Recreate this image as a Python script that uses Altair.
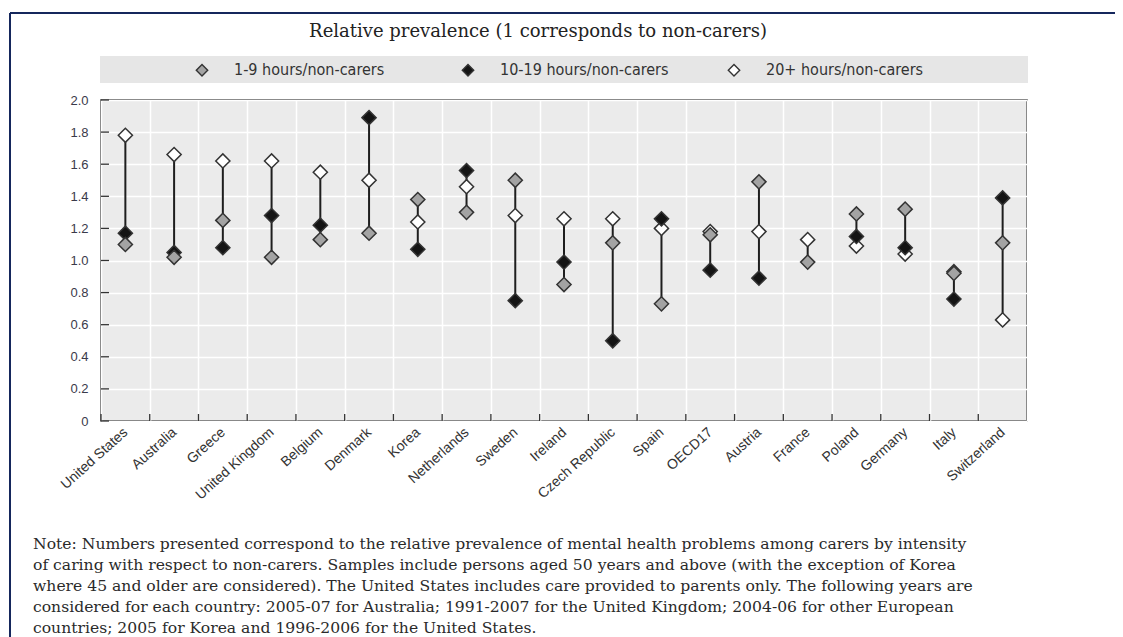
import altair as alt
import pandas as pd

COUNTRIES = ["United States", "Australia", "Greece", "United Kingdom", "Belgium",
             "Denmark", "Korea", "Netherlands", "Sweden", "Ireland", "Czech Republic",
             "Spain", "OECD17", "Austria", "France", "Poland", "Germany", "Italy",
             "Switzerland"]
SERIES = ["1-9 hours/non-carers", "10-19 hours/non-carers", "20+ hours/non-carers"]
H1_9 = [1.10, 1.02, 1.25, 1.02, 1.13, 1.17, 1.38, 1.30, 1.50, 0.85, 1.11,
        0.73, 1.16, 1.49, 0.99, 1.29, 1.32, 0.92, 1.11]
H10_19 = [1.17, 1.05, 1.08, 1.28, 1.22, 1.89, 1.07, 1.56, 0.75, 0.99, 0.50,
          1.26, 0.94, 0.89, None, 1.15, 1.08, 0.76, 1.39]
H20_PLUS = [1.78, 1.66, 1.62, 1.62, 1.55, 1.50, 1.24, 1.46, 1.28, 1.26, 1.26,
            1.20, 1.18, 1.18, 1.13, 1.09, 1.04, 0.93, 0.63]
Y_TICKS = [0, 0.2, 0.4, 0.6, 0.8, 1.0, 1.2, 1.4, 1.6, 1.8, 2.0]
FILLS = ["#a3a3a3", "#141414", "#ffffff"]
TITLE = "Relative prevalence (1 corresponds to non-carers)"
NOTE_LINES = [
    "Note:  Numbers presented correspond to the relative prevalence of mental health problems among carers by intensity",
    "of caring with respect to non-carers. Samples include persons aged 50 years and above (with the exception of Korea",
    "where 45 and older are considered). The United States includes care provided to parents only. The following years are",
    "considered  for  each  country:  2005-07  for  Australia;  1991-2007  for  the  United  Kingdom;  2004-06  for  other  European",
    "countries; 2005 for Korea and 1996-2006 for the United States.",
]

W, H = 926, 321
PAD_L, PAD_T = 93, 92
SANS_NARROW = "Liberation Sans Narrow, DejaVu Sans Condensed, Roboto Condensed, Roboto, sans-serif"

rows = []
for s, vals in [(SERIES[2], H20_PLUS), (SERIES[1], H10_19), (SERIES[0], H1_9)]:
    for c, v in zip(COUNTRIES, vals):
        if v is not None:
            rows.append({"country": c, "series": s, "value": v})
df = pd.DataFrame(rows)
rng = df.groupby("country")["value"].agg(["min", "max"]).reset_index()
ctry = pd.DataFrame({"country": COUNTRIES})
yt = pd.DataFrame({"value": Y_TICKS})

xscale = alt.Scale(type="band", paddingInner=0, paddingOuter=0)
x_axis = alt.Axis(title=None, labelAngle=318, labelAlign="right", labelBaseline="middle",
                  tickBand="extent", grid=True, gridColor="white", gridWidth=1.5,
                  ticks=False, domain=False, labelPadding=9, labelFontSize=14,
                  labelColor="#333", labelFont="Liberation Sans", labelOverlap=False)
yscale = alt.Scale(domain=[0, 2])
y_axis = alt.Axis(title=None, values=Y_TICKS, grid=True, gridColor="white",
                  gridWidth=1.5, ticks=False, domain=False, labelPadding=13,
                  labelFontSize=13, labelColor="#3a3a4a", labelFont="Liberation Sans",
                  labelOverlap=False,
                  labelExpr="datum.value == 0 ? '0' : format(datum.value, '.1f')")


def X(**kw):
    return alt.X("country:N", sort=COUNTRIES, scale=xscale, axis=x_axis, **kw)


one = alt.Data(values=[{"k": 1}])

band = alt.Chart(one).mark_rect(color="#e6e6e6").encode(
    x=alt.value(-1), x2=alt.value(W + 1), y=alt.value(-44), y2=alt.value(-17))

title = alt.Chart(one).mark_text(text=TITLE, font="DejaVu Serif", fontSize=18,
                                 color="#222", baseline="middle").encode(
    x=alt.value(538 - 101), y=alt.value(32 - 100))

note = alt.Chart(one).mark_text(align="left", baseline="middle", lineBreak="\n",
                                lineHeight=21, font="DejaVu Serif", fontSize=15.6,
                                color="#2a2a2a").encode(
    text=alt.value("\n".join(NOTE_LINES)), x=alt.value(33 - 101), y=alt.value(544 - 100))

top_border = alt.Chart(one).mark_rule(color="#15275c", strokeWidth=2).encode(
    x=alt.value(-91), x2=alt.value(1110), y=alt.value(-87))
left_border = alt.Chart(one).mark_rule(color="#15275c", strokeWidth=2).encode(
    x=alt.value(-91), y=alt.value(-87), y2=alt.value(560))

xticks = alt.Chart(ctry).mark_rule(color="#333", strokeWidth=1.3).encode(
    x=X(bandPosition=0), y=alt.value(H), y2=alt.value(H - 7))
yticks = alt.Chart(yt).mark_rule(color="#333", strokeWidth=1.3).encode(
    y=alt.Y("value:Q", scale=yscale, axis=y_axis), x=alt.value(0), x2=alt.value(8))

ranges = alt.Chart(rng).mark_rule(color="#1e1e1e", strokeWidth=2).encode(
    x=X(), y=alt.Y("min:Q", scale=yscale, axis=y_axis), y2="max:Q")

points = alt.Chart(df).mark_point(shape="diamond", filled=True, size=200, opacity=1,
                                  stroke="#333", strokeWidth=1.5).encode(
    x=X(),
    y=alt.Y("value:Q", scale=yscale, axis=y_axis),
    fill=alt.Fill("series:N", scale=alt.Scale(domain=SERIES, range=FILLS),
                  legend=alt.Legend(title=None, orient="none", legendX=93, legendY=-38,
                                    direction="horizontal", symbolType="diamond",
                                    symbolSize=130, symbolStrokeColor="#333",
                                    symbolStrokeWidth=1.4, labelFont=SANS_NARROW,
                                    labelFontSize=16, labelColor="#333", labelOffset=24,
                                    labelLimit=300, gridAlign="all", columnPadding=56,
                                    padding=0)),
)

chart = alt.layer(band, title, note, top_border, left_border, ranges, points,
                  xticks, yticks).properties(
    width=W, height=H,
    background="white",
    autosize=alt.AutoSizeParams(type="none"),
    padding={"left": PAD_L, "top": PAD_T, "right": 88, "bottom": 216},
).configure_view(stroke="#333", strokeWidth=1.5, fill="#ebebeb")

chart.save("out.html", embed_options={"renderer": "svg", "actions": False})
